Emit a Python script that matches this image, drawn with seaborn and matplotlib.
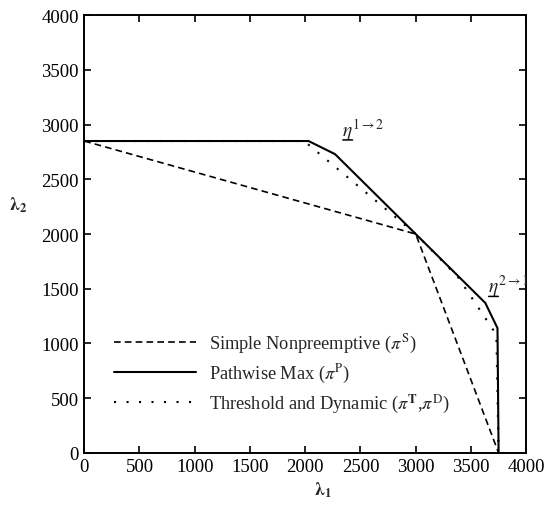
import matplotlib
matplotlib.use("Agg")
import matplotlib.pyplot as plt
import seaborn as sns
import pandas as pd

# Data
simple_x = [0, 3000, 3750]
simple_y = [2850, 2000, 0]

pathwise_x = [0, 2030, 2270, 3000, 3630, 3740, 3750]
pathwise_y = [2850, 2850, 2730, 2000, 1370, 1140, 0]

threshold_x = [0, 1990, 3000, 3380, 3730, 3750]
threshold_y = [2850, 2850, 2000, 1610, 1080, 0]

labels = ["Simple Nonpreemptive ($\\pi^{\\mathrm{S}}$)",
          "Pathwise Max ($\\pi^{\\mathrm{P}}$)",
          "Threshold and Dynamic ($\\pi^{\\mathbf{T}}$,$\\pi^{\\mathrm{D}}$)"]

xticks = [0, 500, 1000, 1500, 2000, 2500, 3000, 3500, 4000]
yticks = [0, 500, 1000, 1500, 2000, 2500, 3000, 3500, 4000]

sns.set_style("ticks")
plt.rcParams["font.family"] = ["Liberation Serif", "DejaVu Serif"]
plt.rcParams["mathtext.fontset"] = "stix"

fig = plt.figure(figsize=(5.47, 5.06), dpi=100)
ax = fig.add_axes([0.154, 0.103, 0.808, 0.865])

styles = [(0, (4, 2.5)), "-", (0, (1, 5))]
widths = [1.2, 1.5, 1.5]
series = [(simple_x, simple_y), (pathwise_x, pathwise_y), (threshold_x, threshold_y)]
for (xs, ys), lab, ls, lw in zip(series, labels, styles, widths):
    df = pd.DataFrame({"x": xs, "y": ys})
    sns.lineplot(data=df, x="x", y="y", ax=ax, color="black", linestyle=ls,
                 linewidth=lw, label=lab, sort=False, estimator=None)

ax.set_xlim(0, 4000)
ax.set_ylim(0, 4000)
ax.set_xticks(xticks)
ax.set_yticks(yticks)
ax.tick_params(direction="in", length=5, width=1.2, top=True, right=True,
               labelsize=13.5, colors="black", pad=4)
for sp in ax.spines.values():
    sp.set_linewidth(1.4)
    sp.set_color("black")

ax.set_xlabel("$\\mathbf{\\lambda_1}$", fontsize=13, va="center")
ax.set_ylabel("$\\mathbf{\\lambda_2}$", fontsize=13, rotation=0, va="center", ha="center")
ax.xaxis.set_label_coords(0.54, -0.083)
ax.yaxis.set_label_coords(-0.149, 0.568)

# eta annotations with underline under the eta
ann = [("$\\eta^{1\\rightarrow 2}$", 2330, 2960), ("$\\eta^{2\\rightarrow 1}$", 3650, 1530)]
for txt, tx, ty in ann:
    ax.annotate(txt, xy=(tx, ty), xycoords="data", fontsize=14, ha="left", va="center")
    ax.annotate("", xy=(tx + 10, ty - 100), xycoords="data",
                xytext=(7, 0), textcoords="offset points",
                arrowprops=dict(arrowstyle="-", lw=1.1, color="black",
                                shrinkA=0, shrinkB=0))

leg = ax.legend(loc="lower left", bbox_to_anchor=(0.03, 0.05), frameon=False,
                fontsize=13.2, handlelength=4.5, handletextpad=0.7, labelspacing=0.38)

fig.savefig("out.png", dpi=100)
